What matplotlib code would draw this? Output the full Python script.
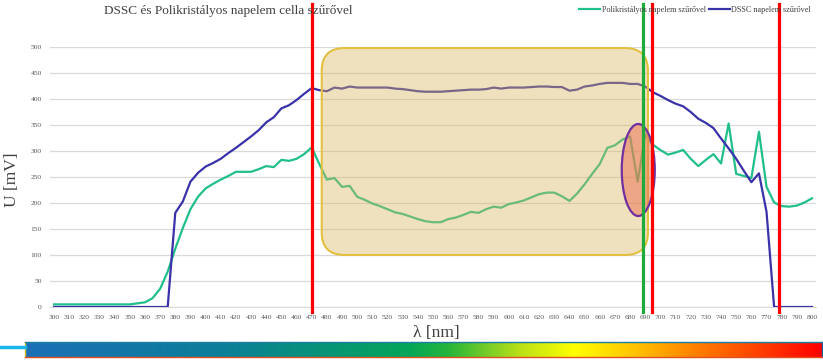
import numpy as np
import matplotlib
matplotlib.use("Agg")
import matplotlib.pyplot as plt
from matplotlib.patches import FancyBboxPatch, Ellipse
from matplotlib.lines import Line2D
from matplotlib.colors import LinearSegmentedColormap

# ---- data (5 nm steps, 300..800 nm) ----
wavelengths = list(range(300, 805, 5))

poly_values = [5, 5, 5, 5, 5, 5, 5, 5, 5, 5,
               5, 7, 9, 17, 35, 68, 112, 152, 188, 212,
               228, 237, 245, 252, 260, 260, 260, 265, 271, 269,
               283, 281, 285, 294, 307, 275, 245, 248, 231, 233,
               212, 206, 199, 194, 188, 182, 179, 174, 169, 165,
               163, 163, 169, 172, 177, 183, 181, 188, 193, 191,
               198, 201, 205, 211, 217, 220, 220, 213, 204, 218,
               236, 256, 275, 306, 311, 322, 328, 241, 332, 312,
               302, 293, 297, 302, 285, 271, 283, 294, 276, 353,
               256, 252, 248, 337, 231, 201, 194, 193, 195, 201,
               209]

dssc_values = [0, 0, 0, 0, 0, 0, 0, 0, 0, 0,
               0, 0, 0, 0, 0, 0, 181, 203, 241, 258,
               270, 277, 285, 296, 306, 317, 328, 340, 355, 365,
               382, 388, 398, 410, 421, 417, 415, 422, 420, 424,
               422, 422, 422, 422, 422, 420, 419, 417, 415, 414,
               414, 414, 415, 416, 417, 418, 418, 419, 422, 420,
               422, 422, 422, 423, 424, 424, 423, 423, 416, 418,
               424, 426, 429, 431, 431, 431, 429, 429, 424, 413,
               406, 398, 391, 386, 375, 362, 354, 344, 324, 305,
               285, 262, 240, 257, 183, 0, 0, 0, 0, 0,
               0]

x_tick_labels = list(range(300, 810, 10))
y_ticks = list(range(0, 550, 50))

red_marks = [470, 694.5, 778.5]
green_mark = [688.7]

title = "DSSC és Polikristályos napelem cella szűrővel"
series_names = ["Polikristályos napelem szűrővel", "DSSC napelem szűrővel"]

W, H = 823, 360
fig = plt.figure(figsize=(W / 100, H / 100), dpi=100)
plt.rcParams['font.family'] = ['Liberation Serif', 'DejaVu Serif']

def px_axes(l, t, r, b):
    return [l / W, 1 - b / H, (r - l) / W, (b - t) / H]

ax = fig.add_axes(px_axes(50.2, 47, 815.8, 307))
ax.set_xlim(297.5, 802.5)
ax.set_ylim(0, 500)

green_c = '#20bf8c'
blue_c = '#3a32a8'

ax.plot(wavelengths, poly_values, color=green_c, lw=1.6, zorder=3, solid_joinstyle='round')
ax.plot(wavelengths, dssc_values, color=blue_c, lw=1.6, zorder=3, solid_joinstyle='round')

# grid and axes styling
ax.set_yticks(y_ticks)
ax.set_xticks(x_tick_labels)
ax.yaxis.grid(True, color='#d9d9d9', lw=0.9)
ax.set_axisbelow(True)
for s in ['top', 'right', 'left']:
    ax.spines[s].set_visible(False)
ax.spines['bottom'].set_color('#d9d9d9')
ax.tick_params(axis='both', length=0, labelsize=5.4, labelcolor='#595959')
ax.tick_params(axis='y', pad=6)
ax.tick_params(axis='x', pad=6)

# highlighted rounded box (data coordinates)
px_per_nm = (815.8 - 50.2) / 505.0
px_per_mv = 260 / 500.0
box = FancyBboxPatch((476.6, 100), 691.8 - 476.6, 498 - 100,
                     boxstyle="round,pad=0,rounding_size=15",
                     mutation_aspect=px_per_nm / px_per_mv,
                     facecolor='#d9b65a', alpha=0.4, edgecolor='none', zorder=4)
ax.add_patch(box)
box_edge = FancyBboxPatch((476.6, 100), 691.8 - 476.6, 498 - 100,
                          boxstyle="round,pad=0,rounding_size=15",
                          mutation_aspect=px_per_nm / px_per_mv,
                          facecolor='none', edgecolor='#e3c040', lw=1.5, zorder=4,
                          clip_on=False)
ax.add_patch(box_edge)

ell = Ellipse((685.4, 263.5), 21.8, 177, facecolor='#ec6f50', alpha=0.5,
              edgecolor='none', zorder=5)
ax.add_patch(ell)
ell2 = Ellipse((685.4, 263.5), 21.8, 177, facecolor='none',
               edgecolor='#7030a0', lw=1.6, zorder=5)
ax.add_patch(ell2)

for xv in red_marks:
    ax.axvline(xv, ymin=-0.019, ymax=1.165, color='#ff0000', lw=2.3,
               clip_on=False, zorder=6)
for xv in green_mark:
    ax.axvline(xv, ymin=-0.019, ymax=1.165, color='#1faa3c', lw=2.3,
               clip_on=False, zorder=6)

# title and labels
fig.text(228 / W, 1 - 11 / H, title, ha='center', va='center',
         fontsize=9.5, color='#404040')
fig.text(12 / W, 1 - 180 / H, "U [mV]", ha='center', va='center',
         rotation=90, fontsize=12.5, color='#404040')
fig.text(436.5 / W, 1 - 333 / H, "λ [nm]", ha='center', va='center',
         fontsize=12.5, color='#404040')

# legend
handles = [Line2D([0], [0], color=green_c, lw=1.6),
           Line2D([0], [0], color=blue_c, lw=1.6)]
leg = fig.legend(handles, series_names, loc='center right',
                 bbox_to_anchor=(811 / W, 1 - 10 / H), ncol=2, frameon=False,
                 fontsize=5.9, handlelength=2.6, handletextpad=0.15,
                 columnspacing=0.4, borderaxespad=0, borderpad=0)
for t in leg.get_texts():
    t.set_color('#404040')

# spectrum bar at the bottom
cax = fig.add_axes(px_axes(25, 342, 822, 357))
stops = [(0.0, '#1c6fb6'), (0.25, '#0b7f98'), (0.48, '#04a55a'),
         (0.53, '#22b43c'), (0.62, '#b8e018'), (0.69, '#ffff00'),
         (0.77, '#ffc000'), (0.85, '#ff7a00'), (0.93, '#ff3a00'),
         (1.0, '#ff0000')]
cmap = LinearSegmentedColormap.from_list('spec', stops)
grad = np.linspace(0, 1, 512).reshape(1, -1)
cax.imshow(grad, aspect='auto', cmap=cmap, extent=(0, 1, 0, 1))
cax.set_xticks([])
cax.set_yticks([])
cax.spines['top'].set_color('#1c7fa0')
cax.spines['bottom'].set_color('#e05020')
cax.spines['left'].set_color('#d0c030')
cax.spines['right'].set_color('#2060a0')
for s in cax.spines.values():
    s.set_linewidth(1.0)
fig.add_artist(Line2D([0, 25 / W], [1 - 347 / H, 1 - 347 / H],
                      color='#19b6ee', lw=2.5, transform=fig.transFigure))

fig.savefig('out.png', dpi=100)
